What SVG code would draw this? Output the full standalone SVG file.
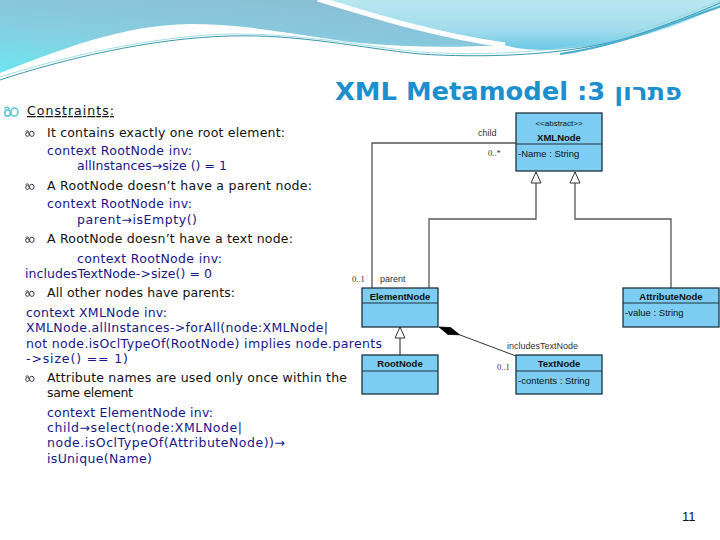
<svg xmlns="http://www.w3.org/2000/svg" xmlns:xlink="http://www.w3.org/1999/xlink" width="720" height="540" viewBox="0 0 720 540">
<defs>
<linearGradient id="gL" x1="0" y1="1" x2="0.6" y2="0">
<stop offset="0" stop-color="#6ee6f0"/>
<stop offset="0.5" stop-color="#86cde0"/>
<stop offset="1" stop-color="#8bbfd6"/>
</linearGradient>
<linearGradient id="gR" x1="0" y1="0" x2="0" y2="1">
<stop offset="0" stop-color="#b9e7f0"/>
<stop offset="0.6" stop-color="#a2dcec"/>
<stop offset="1" stop-color="#68c8e6"/>
</linearGradient>
<symbol id="bul" viewBox="0 0 11 8" overflow="visible">
<path d="M0.6,2 C1.6,0.3 3.4,0.6 4,2.4" fill="none" stroke="currentColor" stroke-width="1.1"/>
<ellipse cx="2.6" cy="5" rx="2" ry="2.3" fill="none" stroke="currentColor" stroke-width="1.1"/>
<ellipse cx="7.6" cy="4.4" rx="2.6" ry="3" fill="none" stroke="currentColor" stroke-width="1.1"/>
</symbol>
<marker id="tri" viewBox="0 0 12 12" refX="12" refY="6" markerWidth="12" markerHeight="12" markerUnits="userSpaceOnUse" orient="auto">
<path d="M1,1 L12,6 L1,11 Z" fill="#fff" stroke="#333" stroke-width="1"/>
</marker>
</defs>
<style>
.t{font-family:"DejaVu Sans",Verdana,sans-serif;font-size:12.5px;fill:#111}
.c{font-family:"DejaVu Sans",Verdana,sans-serif;font-size:12.5px;fill:#17178a}
.box{fill:#7ccdf1;stroke:#1d3440;stroke-width:1.3}
.nm{font-family:"Liberation Sans",Arial,sans-serif;font-size:9.5px;font-weight:bold;fill:#111;text-anchor:middle}
.at{font-family:"Liberation Sans",Arial,sans-serif;font-size:9.5px;fill:#111}
.lb{font-family:"Liberation Sans",Arial,sans-serif;font-size:9px;fill:#333}
.ml{font-family:"Liberation Serif","Times New Roman",serif;font-size:8.5px;fill:#333}
.ln{fill:none;stroke:#555;stroke-width:1.3}
</style>
<rect width="720" height="540" fill="#fff"/>
<g id="header">
<path d="M0,0 H330 C385,18 445,36 505,45 C450,48 405,47 360,43 C300,36 250,24 190,24 C120,25 60,50 0,73 Z" fill="url(#gL)"/>
<path d="M330,0 H720 V6 C680,26 620,48 545,50 C525,50 512,48 505,45 C445,36 385,18 330,0 Z" fill="url(#gR)"/>
<path d="M318,-1 C380,18 440,36 505,45" fill="none" stroke="#fff" stroke-width="5"/>
<path d="M0,80 C60,60 150,38 230,36 C300,34 360,48 420,54 C480,58 560,56 620,40 C660,28 700,12 722,2" fill="none" stroke="#3a98ac" stroke-width="1"/>
<path d="M0,77 C60,58 150,36 230,34 C300,33 360,46 420,52 C480,56 560,53 620,37 C660,25 700,9 722,0" fill="none" stroke="#8fd4e0" stroke-width="0.8"/>
<path d="M560,54 C620,46 680,20 722,6" fill="none" stroke="#4aaed0" stroke-width="2"/>
</g>
<text x="335" y="100" font-family="'DejaVu Sans',Verdana,sans-serif" font-size="24" font-weight="bold" fill="#1c8fce" textLength="347" lengthAdjust="spacingAndGlyphs">XML Metamodel :3 פתרון</text>
<g id="text">
<use xlink:href="#bul" x="3" y="106" width="17" height="11" color="#58c4d6"/>
<text class="t" x="27" y="115" textLength="87" text-decoration="underline">Constraints:</text>
<use xlink:href="#bul" x="25" y="130" width="10" height="7" color="#333"/>
<text class="t" x="47" y="137" textLength="238">It contains exactly one root element:</text>
<text class="c" x="47" y="155" textLength="145">context RootNode inv:</text>
<text class="c" x="77" y="170" textLength="150">allInstances→size () = 1</text>
<use xlink:href="#bul" x="25" y="183" width="10" height="7" color="#333"/>
<text class="t" x="47" y="190" textLength="265">A RootNode doesn’t have a parent node:</text>
<text class="c" x="47" y="208" textLength="145">context RootNode inv:</text>
<text class="c" x="77" y="224" textLength="120">parent→isEmpty()</text>
<use xlink:href="#bul" x="25" y="236" width="10" height="7" color="#333"/>
<text class="t" x="47" y="243" textLength="246">A RootNode doesn’t have a text node:</text>
<text class="c" x="77" y="263" textLength="145">context RootNode inv:</text>
<text class="c" x="25" y="278" textLength="187">includesTextNode-&gt;size() = 0</text>
<use xlink:href="#bul" x="25" y="290" width="10" height="7" color="#333"/>
<text class="t" x="47" y="297" textLength="188">All other nodes have parents:</text>
<text class="c" x="26" y="317" textLength="141">context XMLNode inv:</text>
<text class="c" x="26" y="332" textLength="302">XMLNode.allInstances-&gt;forAll(node:XMLNode|</text>
<text class="c" x="26" y="348" textLength="356">not node.isOclTypeOf(RootNode) implies node.parents</text>
<text class="c" x="26" y="363" textLength="102">-&gt;size() == 1)</text>
<use xlink:href="#bul" x="25" y="375" width="10" height="7" color="#333"/>
<text class="t" x="47" y="382" textLength="300">Attribute names are used only once within the</text>
<text class="t" x="47" y="397" textLength="86">same element</text>
<text class="c" x="47" y="417" textLength="166">context ElementNode inv:</text>
<text class="c" x="47" y="432" textLength="195">child→select(node:XMLNode|</text>
<text class="c" x="47" y="447" textLength="238">node.isOclTypeOf(AttributeNode))→</text>
<text class="c" x="47" y="463" textLength="105">isUnique(Name)</text>
</g>
<g id="connectors">
<polyline class="ln" points="429,288 429,219 536,219 536,172" marker-end="url(#tri)"/>
<polyline class="ln" points="671,288 671,219 575,219 575,172" marker-end="url(#tri)"/>
<polyline class="ln" points="372,288 372,143 516,143"/>
<line class="ln" x1="400" y1="355" x2="400" y2="327" marker-end="url(#tri)"/>
<path d="M439,327 L450.7,327.6 L459.6,334.8 L447.9,334.4 Z" fill="#000" stroke="#000" stroke-width="0.8"/>
<line x1="459.6" y1="334.8" x2="516" y2="356" stroke="#333" stroke-width="1"/>
<text class="lb" x="478" y="136">child</text>
<text class="ml" x="488" y="156">0..*</text>
<text class="ml" x="352" y="282">0..1</text>
<text class="lb" x="380" y="282">parent</text>
<text class="lb" x="507" y="349">includesTextNode</text>
<text class="ml" x="497" y="370">0..1</text>
</g>
<g id="XMLNode">
<rect class="box" x="516" y="113" width="86" height="58"/>
<line x1="516" y1="144" x2="602" y2="144" stroke="#1d3440" stroke-width="1.2"/>
<text x="559" y="126" font-family="'Liberation Sans',Arial,sans-serif" font-size="8" fill="#111" text-anchor="middle">&lt;&lt;abstract&gt;&gt;</text>
<text class="nm" x="559" y="141">XMLNode</text>
<text class="at" x="518" y="157">-Name : String</text>
</g>
<g id="ElementNode">
<rect class="box" x="362" y="288" width="76" height="39"/>
<line x1="362" y1="303" x2="438" y2="303" stroke="#1d3440" stroke-width="1.2"/>
<text class="nm" x="400" y="300">ElementNode</text>
</g>
<g id="AttributeNode">
<rect class="box" x="623" y="288" width="96" height="39"/>
<line x1="623" y1="303" x2="719" y2="303" stroke="#1d3440" stroke-width="1.2"/>
<text class="nm" x="671" y="300">AttributeNode</text>
<text class="at" x="625" y="316">-value : String</text>
</g>
<g id="RootNode">
<rect class="box" x="362" y="355" width="76" height="39"/>
<line x1="362" y1="371" x2="438" y2="371" stroke="#1d3440" stroke-width="1.2"/>
<text class="nm" x="400" y="367">RootNode</text>
</g>
<g id="TextNode">
<rect class="box" x="516" y="355" width="86" height="39"/>
<line x1="516" y1="371" x2="602" y2="371" stroke="#1d3440" stroke-width="1.2"/>
<text class="nm" x="559" y="367">TextNode</text>
<text class="at" x="518" y="384">-contents : String</text>
</g>
<text x="682" y="521" font-family="'Liberation Sans',Arial,sans-serif" font-size="13" fill="#111">11</text>
</svg>
